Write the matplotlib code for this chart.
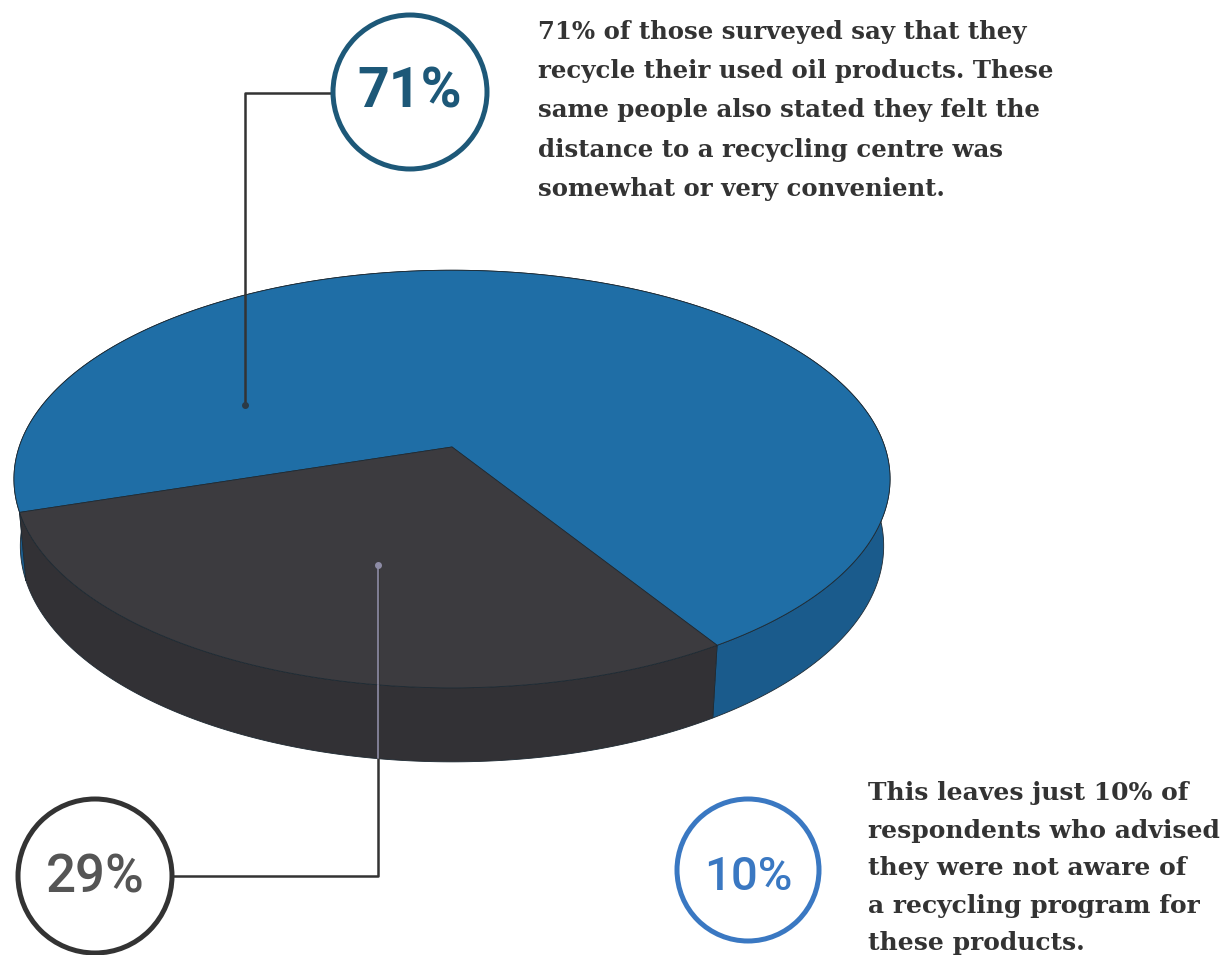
import numpy as np
import matplotlib
matplotlib.use('Agg')
import matplotlib.pyplot as plt
from matplotlib.patches import Polygon, Circle

# data
shares = [71, 29]
share_labels = ['71%', '29%']
extra_label = '10%'
top_colors = ['#1f6ea6', '#3c3b3f']
side_colors = ['#1a5b8c', '#323135']

blurb_top = ['71% of those surveyed say that they',
             'recycle their used oil products. These',
             'same people also stated they felt the',
             'distance to a recycling centre was',
             'somewhat or very convenient.']
blurb_bottom = ['This leaves just 10% of',
                'respondents who advised',
                'they were not aware of',
                'a recycling program for',
                'these products.']

# view of the 3d pie (pixel space)
CX, CY = 452, 447
DIST = 5.75
ELEV = np.radians(28.1)
FOCAL = 2489
THICK = 0.176
MID_DARK = 250  # where the small slice is centred, degrees

NARROW = ['Roboto', 'DejaVu Sans']


def project(theta, z, r=1.0):
    x = r * np.cos(theta)
    y = r * np.sin(theta)
    v = y * np.sin(ELEV) + z * np.cos(ELEV)
    w = DIST + y * np.cos(ELEV) - z * np.sin(ELEV)
    return CX + FOCAL * x / w, CY - FOCAL * v / w


fig = plt.figure(figsize=(12.32, 9.55), dpi=100)
ax = fig.add_axes([0, 0, 1, 1])
ax.set_xlim(0, 1232)
ax.set_ylim(955, 0)
ax.axis('off')

fracs = np.array(shares) / sum(shares)
start = np.radians(MID_DARK) + np.pi * fracs[1]
edges = start + 2 * np.pi * np.concatenate([[0], np.cumsum(fracs)])

# sides first, then the top faces
side_patches = []
for i in range(len(shares)):
    th = np.linspace(edges[i], edges[i + 1], 300)
    tx, ty = project(th, 0)
    bx, by = project(th[::-1], -THICK)
    pts = np.column_stack([np.concatenate([tx, bx]), np.concatenate([ty, by])])
    p = Polygon(pts, closed=True, facecolor=side_colors[i],
                edgecolor='#1e2a33', lw=0.6, zorder=1)
    ax.add_patch(p)
    side_patches.append(p)

top_patches = []
for i in range(len(shares)):
    th = np.linspace(edges[i], edges[i + 1], 300)
    tx, ty = project(th, 0)
    pts = np.column_stack([np.concatenate([[CX], tx]), np.concatenate([[CY], ty])])
    p = Polygon(pts, closed=True, facecolor=top_colors[i],
                edgecolor='#1e2a33', lw=0.6, zorder=2)
    ax.add_patch(p)
    top_patches.append(p)

# callout for 71%
ax.plot([332, 245, 245], [93, 93, 405], color='#333333', lw=1.8, zorder=3)
ax.plot(245, 405, 'o', ms=4, color='#2b3a46', zorder=3)
ax.add_patch(Circle((410, 92), 77, facecolor='white', edgecolor='#1d5878',
                    lw=3.6, zorder=4))
ax.text(410, 92, share_labels[0], ha='center', va='center', fontsize=40,
        color='#1d5878', family=NARROW, weight='bold', zorder=5)

# callout for 29%
ax.plot([172, 378, 378], [876, 876, 565], color='#333333', lw=1.8, zorder=3)
for p in top_patches[1:] + side_patches[1:]:
    ln, = ax.plot([378, 378], [565, 876], color='#8e8ca6', lw=1.2, zorder=3.5)
    ln.set_clip_path(p)
ax.plot(378, 565, 'o', ms=4, color='#8e8ca6', zorder=3.5)
ax.add_patch(Circle((95, 876), 77, facecolor='white', edgecolor='#333333',
                    lw=3.6, zorder=4))
ax.text(95, 878, share_labels[1], ha='center', va='center', fontsize=38,
        color='#555555', family=NARROW, weight='medium', zorder=5)

# standalone 10%
ax.add_patch(Circle((748, 870), 71, facecolor='white', edgecolor='#3a78c2',
                    lw=3.6, zorder=4))
ax.text(748, 877, extra_label, ha='center', va='center', fontsize=34,
        color='#3a78c2', family=NARROW, weight='medium', zorder=5)

# paragraphs
for i, line in enumerate(blurb_top):
    ax.text(538, 39 + i * 39.25, line, ha='left', va='baseline', fontsize=17.6,
            color='#333333', family='DejaVu Serif', weight='bold')
for i, line in enumerate(blurb_bottom):
    ax.text(868, 800 + i * 37.5, line, ha='left', va='baseline', fontsize=18,
            color='#333333', family='DejaVu Serif', weight='bold')

fig.savefig('out.png', dpi=100, facecolor='white')
